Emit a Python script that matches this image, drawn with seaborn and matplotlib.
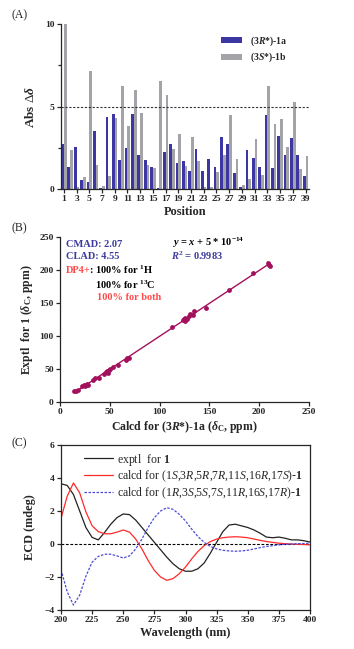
import numpy as np
import pandas as pd
import matplotlib
matplotlib.use('Agg')
import matplotlib.pyplot as plt
import seaborn as sns

# Panel A: absolute deviations per position
positions = list(range(1, 40))
abs_1a = [2.70, 1.32, 2.52, 0.57, 0.41, 3.50, 0.04, 4.39, 4.53, 1.75,
          2.48, 4.53, 2.05, 1.73, 1.32, 0.04, 2.26, 2.74, 1.60, 1.71,
          1.12, 2.40, 1.08, 1.79, 1.36, 3.15, 2.72, 0.98, 0.12, 2.36,
          1.87, 1.36, 4.47, 1.26, 3.23, 2.09, 3.09, 2.05, 0.80]
abs_1b = [10.0, 2.34, 0.14, 0.71, 7.17, 1.48, 0.20, 0.81, 4.31, 6.24,
          3.80, 5.98, 4.63, 1.44, 1.28, 6.56, 5.67, 2.40, 3.35, 1.40,
          3.15, 1.69, 0.10, 0.14, 1.06, 2.07, 4.49, 1.81, 0.26, 0.63,
          3.03, 0.83, 6.22, 3.92, 4.27, 2.54, 5.30, 1.21, 1.98]

# Panel B: calculated vs experimental 13C shifts
calcd = [14.5, 16, 18, 22, 24, 25, 26, 27, 28, 33, 35, 39, 44, 46, 47, 48, 49, 50,
         53, 58, 66, 67, 69, 112, 123, 124, 125, 126, 128, 130, 131, 134, 135,
         147, 170, 194, 209, 210, 211]
exptl = [16, 17, 18, 24, 26, 24, 26, 27, 26, 34, 36, 36, 42, 45, 47, 44, 48, 50,
         53, 56, 64, 66, 67, 114, 124, 126, 128, 122, 126, 130, 134, 132, 138,
         143, 170, 196, 210, 208, 206]

# Panel C: ECD spectra
wavelength = list(range(200, 401, 5))
ecd_exptl = [3.65, 3.55, 3.0, 2.0, 1.0, 0.4, 0.25, 0.7, 1.2, 1.6, 1.82, 1.78, 1.45,
             1.0, 0.55, 0.1, -0.35, -0.8, -1.2, -1.5, -1.65, -1.65, -1.5, -1.15,
             -0.55, 0.1, 0.75, 1.15, 1.2, 1.1, 1.0, 0.85, 0.65, 0.42, 0.38, 0.42,
             0.35, 0.25, 0.25, 0.2, 0.12]
ecd_calc_a = [1.55, 2.9, 3.7, 3.1, 1.95, 1.1, 0.75, 0.62, 0.62, 0.72, 0.85, 0.72,
              0.3, -0.3, -1.0, -1.6, -2.0, -2.2, -2.1, -1.8, -1.4, -0.9, -0.45,
              -0.1, 0.15, 0.3, 0.38, 0.42, 0.44, 0.42, 0.38, 0.3, 0.22, 0.15, 0.1,
              0.05, 0.02, 0.0, -0.02, -0.03, -0.05]
ecd_calc_b = [-1.55, -2.9, -3.7, -3.1, -1.95, -1.1, -0.75, -0.62, -0.62, -0.72,
              -0.85, -0.72, -0.3, 0.3, 1.0, 1.6, 2.0, 2.2, 2.1, 1.8, 1.4, 0.9,
              0.45, 0.1, -0.15, -0.3, -0.38, -0.42, -0.44, -0.42, -0.38, -0.3,
              -0.22, -0.15, -0.1, -0.05, -0.02, 0.0, 0.02, 0.03, 0.05]

sns.set_style('ticks')
plt.rcParams['font.family'] = ['Liberation Serif', 'DejaVu Serif']
plt.rcParams['mathtext.fontset'] = 'custom'
plt.rcParams['mathtext.rm'] = 'Liberation Serif'
plt.rcParams['mathtext.it'] = 'Liberation Serif:italic'
plt.rcParams['mathtext.bf'] = 'Liberation Serif:bold'
plt.rcParams['mathtext.bfit'] = 'Liberation Serif:italic:bold'
plt.rcParams['axes.linewidth'] = 0.9
plt.rcParams['xtick.major.width'] = 0.9
plt.rcParams['ytick.major.width'] = 0.9
plt.rcParams['xtick.major.size'] = 3
plt.rcParams['ytick.major.size'] = 3

BLUE = '#3d37a3'
GRAY = '#a3a3a8'
MAROON = '#a3105c'
TXT_BLUE = '#3b3a9e'
TXT_RED = '#ff4a4a'

fig = plt.figure(figsize=(3.54, 6.49), dpi=100)
W, H = 354, 649

def box(l, t, r, b):
    return [l / W, 1 - b / H, (r - l) / W, (b - t) / H]

tick_kw = dict(labelsize=6.8, pad=1.5)

# ---------------- (A) ----------------
axA = fig.add_axes(box(61, 24, 309, 189))
dfA = pd.DataFrame({
    'pos': [str(p) for p in positions] * 2,
    'val': abs_1a + abs_1b,
    'iso': ['1a'] * 39 + ['1b'] * 39,
})
sns.barplot(data=dfA, x='pos', y='val', hue='iso', palette=[BLUE, GRAY],
            width=0.86, gap=0, ax=axA, legend=True, linewidth=0,
            edgecolor='none', saturation=1)
axA.axhline(5, color='#333333', ls=(0, (2, 1.5)), lw=0.8)
axA.set_xlim(-0.45, 38.55)
axA.set_ylim(0, 10)
axA.set_yticks([0, 5, 10])
axA.set_yticks([2.5, 7.5], minor=True)
axA.tick_params(axis='y', which='minor', length=2, width=0.9, left=True)
axA.set_xticks(range(0, 39, 2))
axA.set_xticklabels([str(p) for p in positions[::2]])
axA.tick_params(**tick_kw)
for lab in axA.get_xticklabels() + axA.get_yticklabels():
    lab.set_fontweight('bold')
axA.set_xlabel('Position', fontsize=8.8, fontweight='bold', labelpad=2)
axA.set_ylabel(r'Abs $\Delta\mathbfit{\delta}$', fontsize=9.5, fontweight='bold', labelpad=6)
h, _ = axA.get_legend_handles_labels()
axA.legend(h, [r'(3$\mathbfit{R}$*)-1a', r'(3$\mathbfit{S}$*)-1b'],
           loc='upper right', bbox_to_anchor=(0.95, 0.99), frameon=False,
           prop=dict(size=7, weight='bold'), handlelength=2.2, handleheight=0.6,
           labelspacing=0.3)
sns.despine(ax=axA)

# ---------------- (B) ----------------
axB = fig.add_axes(box(60, 237, 309, 402))
sns.regplot(x=calcd, y=exptl, ci=None, color=MAROON, ax=axB,
            scatter_kws=dict(s=12, alpha=1, linewidths=0),
            line_kws=dict(lw=1.0))
axB.set_xlim(0, 250)
axB.set_ylim(0, 250)
axB.set_xticks(range(0, 251, 50))
axB.set_yticks(range(0, 251, 50))
axB.tick_params(**tick_kw)
for lab in axB.get_xticklabels() + axB.get_yticklabels():
    lab.set_fontweight('bold')
axB.set_xlabel(r'Calcd for (3$\mathbfit{R}$*)-1a ($\mathbfit{\delta}_{\mathbf{C}}$, ppm)',
               fontsize=8.5, fontweight='bold', labelpad=2)
axB.set_ylabel(r'Exptl  for 1 ($\mathbfit{\delta}_{\mathbf{C}}$, ppm)',
               fontsize=8.5, fontweight='bold', labelpad=3)
fs = 7.5
axB.text(6, 239, 'CMAD: 2.07', color=TXT_BLUE, fontsize=fs, fontweight='bold', va='center')
axB.text(6, 221, 'CLAD: 4.55', color=TXT_BLUE, fontsize=fs, fontweight='bold', va='center')
dp4 = axB.text(6, 200, 'DP4+', color=TXT_RED, fontsize=fs, fontweight='bold', va='center')
axB.annotate(r': 100% for $^{\mathbf{1}}$H', xy=(1, 0.5), xycoords=dp4,
             xytext=(-1.2, 0), textcoords='offset points',
             color='black', fontsize=fs, fontweight='bold', va='center', ha='left')
axB.text(35, 177, r'100% for $^{\mathbf{13}}$C', color='black', fontsize=fs,
         fontweight='bold', va='center')
axB.text(37, 158.5, '100% for both', color=TXT_RED, fontsize=fs, fontweight='bold',
         va='center')
axB.text(112, 241.5, r'$\mathbfit{y}$ = $\mathbfit{x}$ + 5 * 10$^{\mathbf{-14}}$',
         color='black', fontsize=fs, fontweight='bold', va='center')
axB.text(111, 221, r'$\mathbfit{R}^{\mathbf{2}}$ = 0.9983', color=TXT_BLUE,
         fontsize=fs, fontweight='bold', va='center')
sns.despine(ax=axB)

# ---------------- (C) ----------------
axC = fig.add_axes(box(61, 445, 310, 610))
axC.axhline(0, color='black', ls=(0, (2.5, 1.5)), lw=0.8)
sns.lineplot(x=wavelength, y=ecd_exptl, color='#222222', lw=0.9, ax=axC,
             label=r'exptl  for $\mathbf{1}$')
sns.lineplot(x=wavelength, y=ecd_calc_a, color='#ff2a2a', lw=0.9, ax=axC,
             label=r'calcd for (1$\mathit{S}$,3$\mathit{R}$,5$\mathit{R}$,7$\mathit{R}$,'
                   r'11$\mathit{S}$,16$\mathit{R}$,17$\mathit{S}$)-$\mathbf{1}$')
sns.lineplot(x=wavelength, y=ecd_calc_b, color='#4b4bd8', lw=0.9, ax=axC,
             linestyle=(0, (2, 1.2)),
             label=r'calcd for (1$\mathit{R}$,3$\mathit{S}$,5$\mathit{S}$,7$\mathit{S}$,'
                   r'11$\mathit{R}$,16$\mathit{S}$,17$\mathit{R}$)-$\mathbf{1}$')
axC.set_xlim(200, 400)
axC.set_ylim(-4, 6)
axC.set_xticks(range(200, 401, 25))
axC.set_yticks(range(-4, 7, 2))
axC.tick_params(**tick_kw)
for lab in axC.get_xticklabels() + axC.get_yticklabels():
    lab.set_fontweight('bold')
axC.set_xlabel('Wavelength (nm)', fontsize=8.8, fontweight='bold', labelpad=2)
axC.set_ylabel('ECD (mdeg)', fontsize=8.8, fontweight='bold', labelpad=6)
axC.legend(loc='upper left', bbox_to_anchor=(0.06, 1.01), frameon=False, fontsize=8.5,
           handlelength=2.4, handletextpad=0.4, labelspacing=0.1, borderaxespad=0.3)

# panel letters
fig.text(12 / W, 1 - 15 / H, '(A)', fontsize=8.5, va='center')
fig.text(12 / W, 1 - 228 / H, '(B)', fontsize=8.5, va='center')
fig.text(12 / W, 1 - 443 / H, '(C)', fontsize=8.5, va='center')

fig.savefig('out.png', dpi=100)
